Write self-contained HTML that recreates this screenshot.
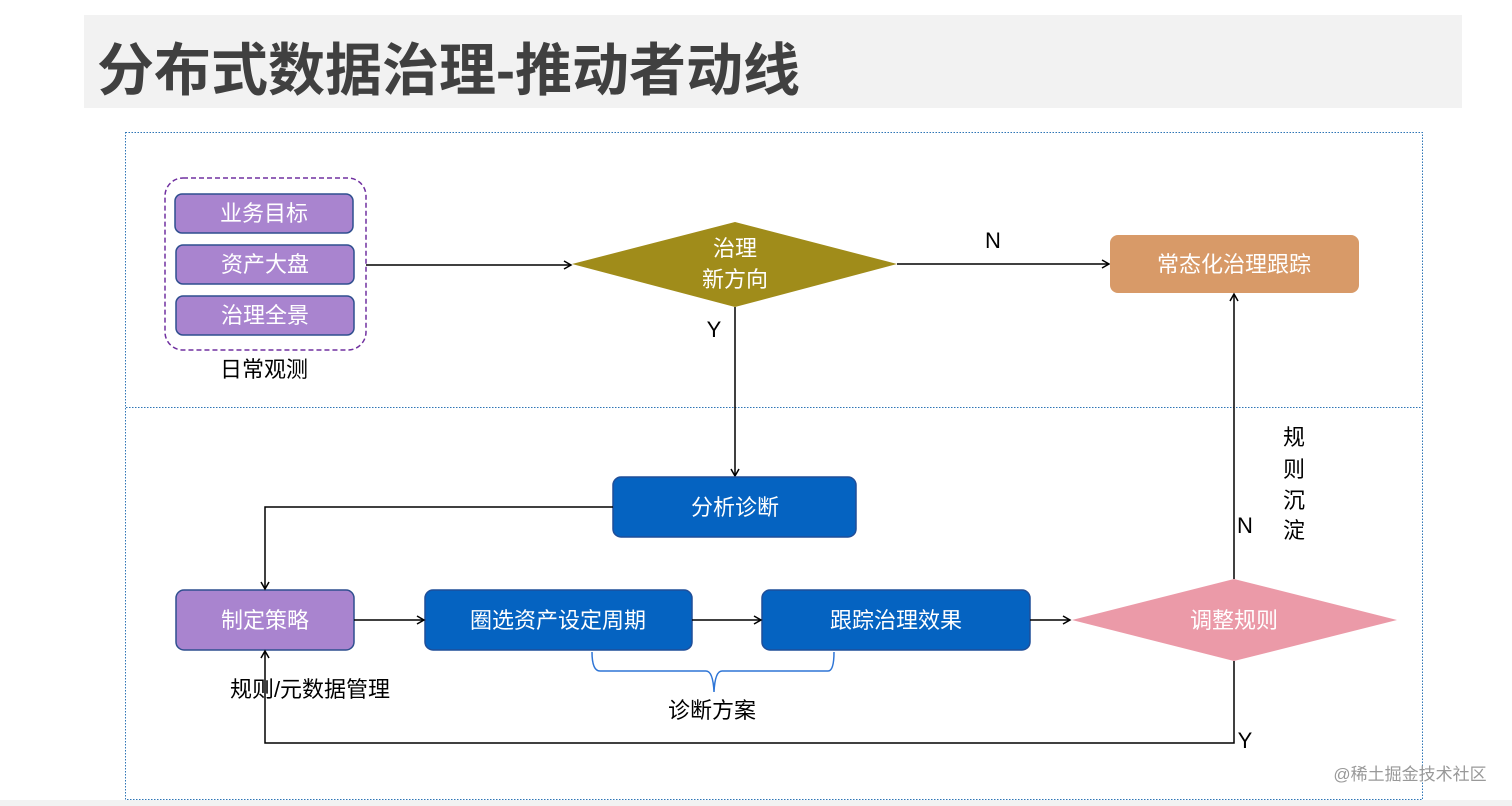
<!DOCTYPE html>
<html><head><meta charset="utf-8"><style>
html,body{margin:0;padding:0;background:#fff;}
svg{display:block;font-family:"Liberation Sans","Noto Sans CJK SC",sans-serif;}
</style></head><body>
<svg width="1512" height="806" viewBox="0 0 1512 806" xmlns="http://www.w3.org/2000/svg">
<defs>
<marker id="a" markerWidth="10" markerHeight="10" refX="8" refY="5" orient="auto" markerUnits="userSpaceOnUse">
<path d="M1,1 L8,5 L1,9" fill="none" stroke="#000" stroke-width="1.5"/></marker>
</defs>
<rect x="0" y="0" width="1512" height="806" fill="#fff"/>
<rect x="0" y="800" width="1512" height="6" fill="#f2f2f2"/>
<rect x="84" y="15" width="1378" height="93" fill="#f2f2f2"/>
<text x="97" y="90" font-size="57" font-weight="bold" fill="#404040">分布式数据治理-推动者动线</text>
<rect x="125.5" y="132.5" width="1297" height="667" fill="none" stroke="#2e75b6" stroke-dasharray="1.5 1.5"/>
<line x1="126" y1="407.5" x2="1422" y2="407.5" stroke="#2e75b6" stroke-dasharray="1.5 1.5"/>
<!-- left group -->
<rect x="165" y="178" width="201" height="172" rx="18" fill="none" stroke="#7030a0" stroke-width="1.5" stroke-dasharray="5 3"/>
<g fill="#a984cf" stroke="#2f4f8f" stroke-width="1.5">
<rect x="175" y="194" width="178" height="39" rx="7"/>
<rect x="176" y="245" width="178" height="39" rx="7"/>
<rect x="176" y="296" width="178" height="39" rx="7"/>
<rect x="176" y="590" width="178" height="60" rx="8"/>
</g>
<g fill="#fff" font-size="22" text-anchor="middle">
<text x="264" y="221">业务目标</text>
<text x="265" y="272">资产大盘</text>
<text x="265" y="323">治理全景</text>
<text x="265" y="628">制定策略</text>
</g>
<text x="264" y="377" font-size="22" text-anchor="middle" fill="#000">日常观测</text>
<!-- top diamond -->
<line x1="366" y1="265" x2="571" y2="265" stroke="#000" stroke-width="1.5" marker-end="url(#a)"/>
<polygon points="572,264 735,222 897,264 735,307" fill="#a08c1a"/>
<text x="735" y="256" font-size="22" fill="#fff" text-anchor="middle">治理</text>
<text x="735" y="287" font-size="22" fill="#fff" text-anchor="middle">新方向</text>
<line x1="897" y1="264" x2="1109" y2="264" stroke="#000" stroke-width="1.5" marker-end="url(#a)"/>
<text x="993" y="248" font-size="22" text-anchor="middle">N</text>
<rect x="1110" y="235" width="249" height="58" rx="8" fill="#d89a68"/>
<text x="1234" y="272" font-size="22" fill="#fff" text-anchor="middle">常态化治理跟踪</text>
<line x1="735" y1="307" x2="735" y2="476" stroke="#000" stroke-width="1.5" marker-end="url(#a)"/>
<text x="714" y="337" font-size="22" text-anchor="middle">Y</text>
<!-- blue boxes -->
<g fill="#0563c1" stroke="#1f4e99" stroke-width="1.5">
<rect x="613" y="477" width="243" height="60" rx="8"/>
<rect x="425" y="590" width="267" height="60" rx="8"/>
<rect x="762" y="590" width="268" height="60" rx="8"/>
</g>
<g fill="#fff" font-size="22" text-anchor="middle">
<text x="735" y="515">分析诊断</text>
<text x="558" y="628">圈选资产设定周期</text>
<text x="896" y="628">跟踪治理效果</text>
</g>
<polyline points="613,507 265,507 265,589" fill="none" stroke="#000" stroke-width="1.5" marker-end="url(#a)"/>
<line x1="354" y1="620" x2="424" y2="620" stroke="#000" stroke-width="1.5" marker-end="url(#a)"/>
<line x1="692" y1="620" x2="761" y2="620" stroke="#000" stroke-width="1.5" marker-end="url(#a)"/>
<line x1="1030" y1="620" x2="1070" y2="620" stroke="#000" stroke-width="1.5" marker-end="url(#a)"/>
<!-- pink diamond -->
<polygon points="1072,620 1234,579 1397,620 1234,661" fill="#eb9aa8"/>
<text x="1234" y="628" font-size="22" fill="#fff" text-anchor="middle">调整规则</text>
<line x1="1234" y1="579" x2="1234" y2="294" stroke="#000" stroke-width="1.5" marker-end="url(#a)"/>
<text x="1245" y="533" font-size="22" text-anchor="middle">N</text>
<g font-size="22" text-anchor="middle">
<text x="1294" y="445">规</text><text x="1294" y="477">则</text><text x="1294" y="508">沉</text><text x="1294" y="538">淀</text>
</g>
<polyline points="1234,661 1234,743 265,743 265,651" fill="none" stroke="#000" stroke-width="1.5" marker-end="url(#a)"/>
<text x="1245" y="748" font-size="22" text-anchor="middle">Y</text>
<text x="310" y="697" font-size="22" text-anchor="middle">规则/元数据管理</text>
<path d="M592,652 Q592,671 600,671 L706,671 Q713,671 714,692 Q715,671 722,671 L828,671 Q834,671 834,652" fill="none" stroke="#2e75d6" stroke-width="1.5"/>
<text x="712" y="718" font-size="22" text-anchor="middle">诊断方案</text>
<text x="1410" y="780" font-size="17" fill="#999" text-anchor="middle">@稀土掘金技术社区</text>
</svg>
</body></html>
